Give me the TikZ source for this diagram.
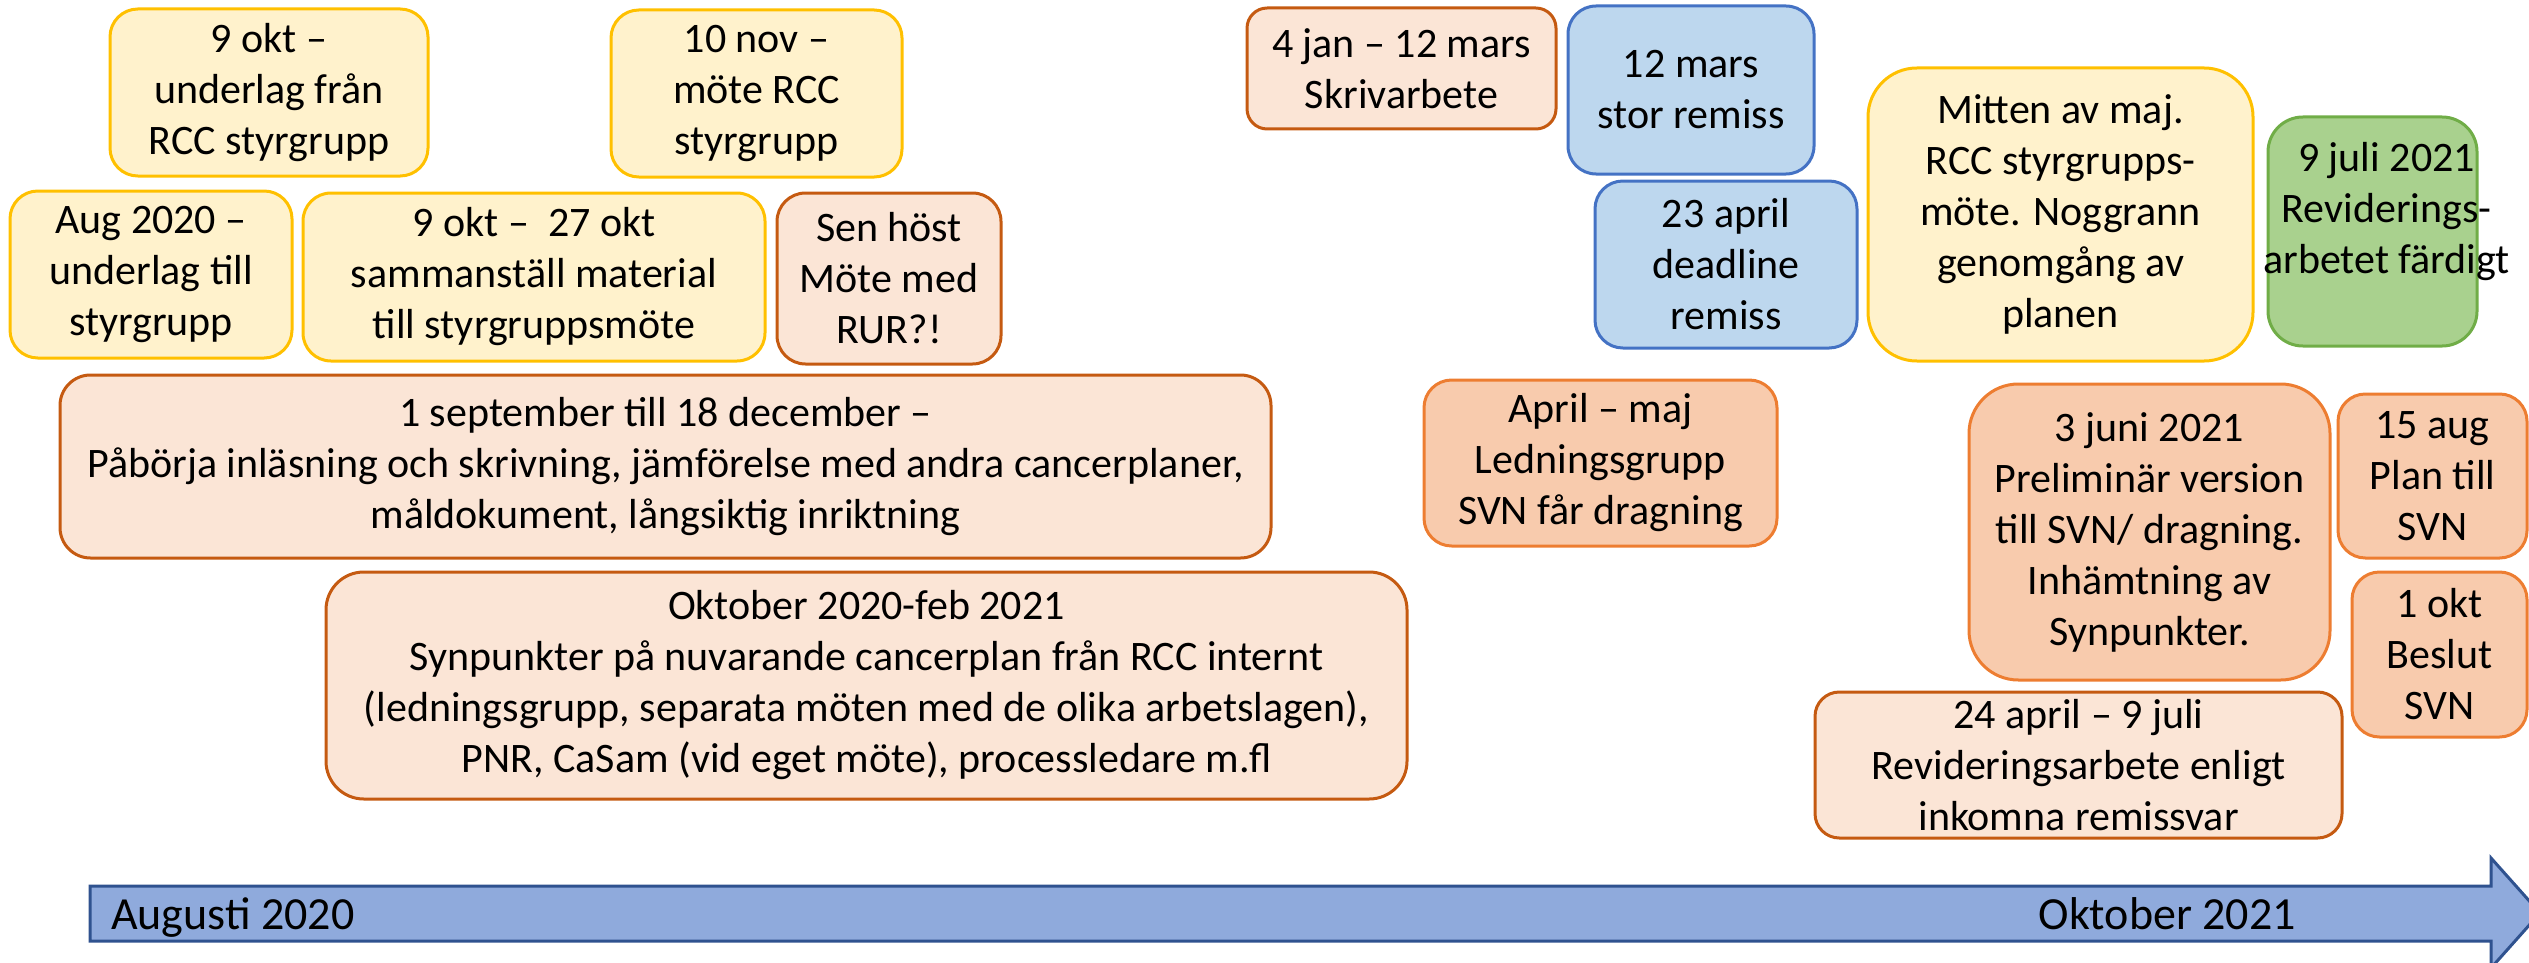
\documentclass[tikz,border=0pt]{standalone}
\usepackage{fontspec}
\setmainfont{Carlito}
\definecolor{yelfill}{HTML}{FFF2CC}
\definecolor{yeldraw}{HTML}{FFC000}
\definecolor{peafill}{HTML}{FBE5D6}
\definecolor{peadraw}{HTML}{C55A11}
\definecolor{orafill}{HTML}{F8CBAD}
\definecolor{oradraw}{HTML}{ED7D31}
\definecolor{blufill}{HTML}{BDD7EE}
\definecolor{bludraw}{HTML}{4472C4}
\definecolor{grefill}{HTML}{A9D18E}
\definecolor{gredraw}{HTML}{70AD47}
\definecolor{arrfill}{HTML}{8FAADC}
\definecolor{arrdraw}{HTML}{2F528F}
\begin{document}
\begin{tikzpicture}[x=1pt,y=-1pt,
  evt/.style={draw, line width=3pt, inner sep=0pt, rectangle},
  yel/.style={evt, fill=yelfill, draw=yeldraw},
  pea/.style={evt, fill=peafill, draw=peadraw},
  ora/.style={evt, fill=orafill, draw=oradraw},
  blu/.style={evt, fill=blufill, draw=bludraw},
  gre/.style={evt, fill=grefill, draw=gredraw},
  txt/.style={align=center, inner sep=0pt, font=\fontsize{42}{51}\selectfont},
  axtxt/.style={inner sep=0pt, font=\fontsize{46}{55}\selectfont}]
\useasboundingbox (0,0) rectangle (2529,963);
\clip (0,0) rectangle (2529,963);

% one event box: [text options]{style}{name}{x1}{y1}{x2}{y2}{text}
% corner radius is a sixth of the shorter side
\newcommand\ebox[8][]{%
  \pgfmathsetmacro\evw{#6-#4}%
  \pgfmathsetmacro\evh{#7-#5}%
  \pgfmathsetmacro\evr{min(\evw,\evh)/6}%
  \node[#2, minimum width=\evw pt, minimum height=\evh pt,
        rounded corners=\evr pt] (#3) at ({(#4+#6)/2},{(#5+#7)/2}) {};%
  \node[txt,#1] (#3-t) at (#3.center) {#8};%
}

% autumn 2020
\ebox{yel}{okt9}{110}{9}{428}{176}{9 okt –\\underlag från\\RCC styrgrupp}
\ebox{yel}{nov10}{611}{10}{902}{177}{10 nov –\\möte RCC\\styrgrupp}
\ebox{yel}{aug}{10}{191}{292}{358}{Aug 2020 –\\underlag till\\styrgrupp}
\ebox{yel}{okt27}{303}{193}{765}{361}{9 okt –\ \ 27 okt\\sammanställ material\\till styrgruppsmöte}
\ebox{pea}{host}{777}{193}{1001}{364}{Sen höst\\Möte med\\RUR?!}
\ebox{pea}{sept}{60}{375}{1271}{558}{1 september till 18 december –\\Påbörja inläsning och skrivning, jämförelse med andra cancerplaner,\\måldokument, långsiktig inriktning}
\ebox{pea}{okt}{326}{572}{1407}{799}{Oktober 2020-feb 2021\\Synpunkter på nuvarande cancerplan från RCC internt\\(ledningsgrupp, separata möten med de olika arbetslagen),\\PNR, CaSam (vid eget möte), processledare m.fl}

% 2021
\ebox{pea}{jan}{1247}{8}{1556}{129}{4 jan – 12 mars\\Skrivarbete}
\ebox{blu}{mars}{1568}{6}{1814}{174}{12 mars\\stor remiss}
\ebox{blu}{april}{1595}{181}{1857}{348}{23 april\\deadline\\remiss}
\ebox{ora}{aprmaj}{1424}{380}{1777}{546}{April – maj\\Ledningsgrupp\\SVN får dragning}
\ebox{yel}{maj}{1868}{68}{2253}{361}{Mitten av maj.\\RCC styrgrupps-\\möte. Noggrann\\genomgång av\\planen}
\ebox[xshift=14pt, yshift=20pt]{gre}{juli}{2268}{117}{2477}{346}{9 juli 2021\\Reviderings-\\arbetet färdigt}
\ebox{ora}{juni}{1969}{384}{2330}{680}{3 juni 2021\\Preliminär version\\till SVN/ dragning.\\Inhämtning av\\Synpunkter.}
\ebox{pea}{revid}{1815}{692}{2342}{838}{24 april – 9 juli\\Revideringsarbete enligt\\inkomna remissvar}
\ebox{ora}{aug15}{2338}{394}{2527}{558}{15 aug\\Plan till\\SVN}
\ebox{ora}{okt1}{2352}{572}{2527}{737}{1 okt\\Beslut\\SVN}

% time axis
\draw[line width=3pt, fill=arrfill, draw=arrdraw, line join=miter]
  (90,886) -- (2491,886) -- (2491,858) -- (2540,913) -- (2491,968)
  -- (2491,941) -- (90,941) -- cycle;
\node[axtxt, anchor=base west] (start) at (111,929) {Augusti 2020};
\node[axtxt, anchor=base east] (end) at (2296,929) {Oktober 2021};
\end{tikzpicture}
\end{document}
